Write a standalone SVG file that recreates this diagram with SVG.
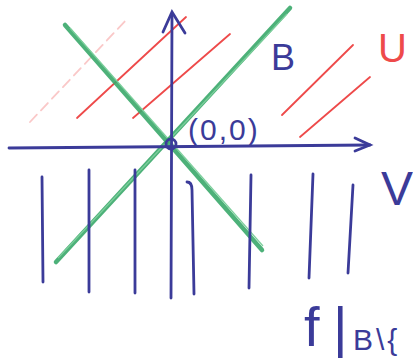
<svg xmlns="http://www.w3.org/2000/svg" width="413" height="358" viewBox="0 0 413 358">
<style>
.blue{stroke:#3b3b99;stroke-width:2.8;fill:none;stroke-linecap:round}
.green{stroke:#3aa86a;stroke-width:4.5;fill:none;stroke-linecap:round;opacity:0.9}
.green2{stroke:#7ccf9c;stroke-width:1.2;fill:none}
.red{stroke:#ee4a4a;stroke-width:1.8;fill:none;stroke-linecap:round}
.t{font-family:"Liberation Sans",Arial,sans-serif;fill:#3b3b99}
</style>
<rect width="413" height="358" fill="#ffffff"/>
<g id="red-lines">
<line class="red" x1="30" y1="122" x2="128" y2="18" stroke-dasharray="10 6" opacity="0.3"/>
<line class="red" x1="77" y1="118" x2="186" y2="17"/>
<line class="red" x1="133" y1="118" x2="230" y2="34"/>
<line class="red" x1="282" y1="115" x2="353" y2="45"/>
<line class="red" x1="300" y1="137" x2="370" y2="77"/>
</g>
<g id="green-lines">
<line class="green" x1="65" y1="25" x2="262" y2="250"/>
<line class="green2" x1="70" y1="28" x2="263" y2="246"/>
<line class="green" x1="290" y1="8" x2="56" y2="262"/>
<line class="green2" x1="287" y1="14" x2="58" y2="258"/>
</g>
<g id="axes">
<line class="blue" x1="9" y1="148" x2="370" y2="145"/>
<polyline class="blue" points="355,138 370,145 355,151"/>
<line class="blue" x1="172" y1="14" x2="171" y2="298"/>
<polyline class="blue" points="163,32 172,12 185,33"/>
<circle class="blue" cx="171" cy="144" r="5"/>
</g>
<g id="vertical-lines">
<line class="blue" x1="42" y1="177" x2="43" y2="282"/>
<line class="blue" x1="89" y1="170" x2="89" y2="292"/>
<line class="blue" x1="135" y1="170" x2="135" y2="293"/>
<path class="blue" d="M187,182 Q192,182 192,190 L194,294"/>
<line class="blue" x1="251" y1="175" x2="249" y2="288"/>
<line class="blue" x1="313" y1="174" x2="309" y2="278"/>
<line class="blue" x1="353" y1="185" x2="348" y2="273"/>
</g>
<g id="labels">
<text class="t" x="188" y="140" font-size="30" letter-spacing="2">(0,0)</text>
<text class="t" x="271" y="70" font-size="36">B</text>
<text x="378" y="62" font-size="40" fill="#ee4a4a" font-family="Liberation Sans,Arial,sans-serif">U</text>
<text class="t" x="381" y="205" font-size="48">V</text>
<text class="t" y="346" font-size="56"><tspan x="304">f</tspan><tspan x="333">|</tspan><tspan x="353" y="350" font-size="30" letter-spacing="3">B\{</tspan></text>
</g>
</svg>
